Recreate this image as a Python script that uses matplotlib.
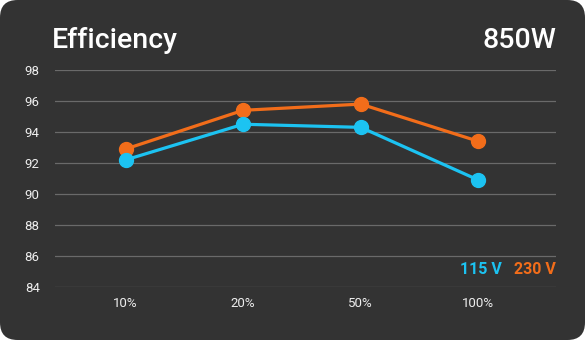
import matplotlib
matplotlib.use('Agg')
import matplotlib.pyplot as plt
from matplotlib.patches import FancyBboxPatch

# Data
loads = ['10%', '20%', '50%', '100%']
eff_115 = [92.2, 94.5, 94.3, 90.9]
eff_230 = [92.9, 95.4, 95.8, 93.4]
y_ticks = [84, 86, 88, 90, 92, 94, 96, 98]

blue = '#1cc3f2'
orange = '#f26d1a'
bg = '#333333'

plt.rcParams['font.family'] = ['Roboto', 'DejaVu Sans']

fig = plt.figure(figsize=(5.85, 3.4), dpi=100)
fig.patch.set_facecolor('white')

# rounded dark card behind everything
card = FancyBboxPatch((0.0, 0.0), 1.0, 1.0, boxstyle='round,pad=0,rounding_size=0.03',
                      transform=fig.transFigure, facecolor=bg, edgecolor='none',
                      mutation_aspect=585 / 340, zorder=-10)
fig.patches.append(card)

ax = fig.add_axes([55 / 585, 1 - 287 / 340, (556 - 55) / 585, (287 - 70) / 340])
ax.set_facecolor('none')

x = list(range(len(loads)))
ax.plot(x, eff_230, color=orange, lw=2.3, marker='o', ms=10, clip_on=False, zorder=3)
ax.plot(x, eff_115, color=blue, lw=2.3, marker='o', ms=10, clip_on=False, zorder=4)

ax.set_xlim(-0.6, 3.66)
ax.set_ylim(84, 98)
ax.set_yticks(y_ticks)
ax.set_xticks(x)
ax.set_xticklabels(loads)
ax.grid(axis='y', color='#6a6a6a', lw=0.9)
ax.set_axisbelow(True)
for s in ax.spines.values():
    s.set_visible(False)
ax.tick_params(axis='both', length=0, colors='#eeeeee', labelsize=9.5)
ax.tick_params(axis='y', pad=11)
ax.tick_params(axis='x', pad=7)

# titles
fig.text(52 / 585, 1 - 41 / 340, 'Efficiency', color='white', fontsize=20.5,
         fontweight='medium', ha='left', va='center')
fig.text(556 / 585, 1 - 41 / 340, '850W', color='white', fontsize=20.5,
         fontweight='medium', ha='right', va='center')

# legend as coloured text
fig.text(556 / 585, 1 - 269 / 340, '230 V', color=orange, fontsize=11.5,
         fontweight='bold', ha='right', va='center')
fig.text(502 / 585, 1 - 269 / 340, '115 V', color=blue, fontsize=11.5,
         fontweight='bold', ha='right', va='center')

fig.savefig('out.png', dpi=100, facecolor=fig.get_facecolor())
